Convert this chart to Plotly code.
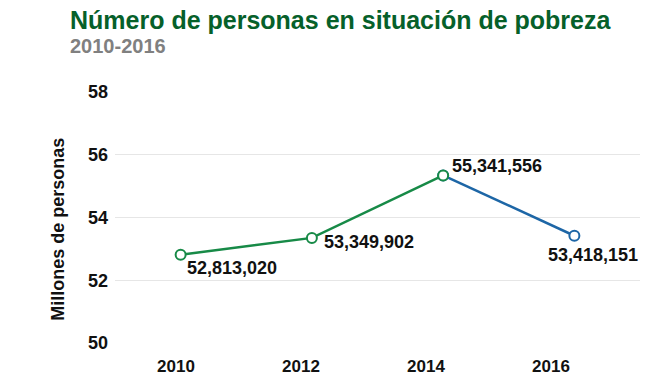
import plotly.graph_objects as go

# ---- data ----
years = [2010, 2012, 2014, 2016]
personas = [52813020, 53349902, 55341556, 53418151]
y_ticks = [50, 52, 54, 56, 58]
x_ticks = [2010, 2012, 2014, 2016]
title_text = "Número de personas en situación de pobreza"
subtitle_text = "2010-2016"
y_title = "Millones de personas"

# ---- style ----
FONT = "Arial, 'Liberation Sans', sans-serif"
GREEN = "#178a47"
BLUE = "#1d66a6"
TITLE_GREEN = "#06602a"
label_shift = [(4, -13), (10, -4), (7, 9), (-28, -19)]

millones = [v / 1e6 for v in personas]

fig = go.Figure()
# blue segment 2014-2016
fig.add_trace(go.Scatter(
    x=years[2:], y=millones[2:], mode="lines+markers",
    line=dict(color=BLUE, width=2.5),
    marker=dict(size=10, color="white", line=dict(color=BLUE, width=2)),
    hoverinfo="skip", showlegend=False))
# green segment 2010-2014
fig.add_trace(go.Scatter(
    x=years[:3], y=millones[:3], mode="lines+markers",
    line=dict(color=GREEN, width=2.5),
    marker=dict(size=10, color="white", line=dict(color=GREEN, width=2)),
    hoverinfo="skip", showlegend=False))
# empty trace to hold the label axis
fig.add_trace(go.Scatter(x=[], y=[], xaxis="x2", showlegend=False))

for yr, m, v, (dx, dy) in zip(years, millones, personas, label_shift):
    fig.add_annotation(x=yr, y=m, xref="x", yref="y", text=f"<b>{v:,}</b>",
                       showarrow=False, xanchor="left", yanchor="middle",
                       xshift=dx, yshift=dy,
                       font=dict(family=FONT, size=18, color="#111111"))

fig.add_annotation(x=-0.0895, y=1.287, xref="paper", yref="paper",
                   text=f"<b>{title_text}</b>", showarrow=False,
                   xanchor="left", yanchor="middle",
                   font=dict(family=FONT, size=25, color=TITLE_GREEN))
fig.add_annotation(x=-0.0895, y=1.183, xref="paper", yref="paper",
                   text=f"<b>{subtitle_text}</b>", showarrow=False,
                   xanchor="left", yanchor="middle",
                   font=dict(family=FONT, size=20, color="#808080"))
fig.add_annotation(x=-0.1086, y=0.455, xref="paper", yref="paper",
                   text=f"<b>{y_title}</b>", showarrow=False, textangle=-90,
                   xanchor="center", yanchor="middle",
                   font=dict(family=FONT, size=18, color="#111111"))

fig.update_layout(
    width=650, height=392,
    margin=dict(l=115, r=10, t=92, b=49),
    paper_bgcolor="white", plot_bgcolor="white",
    font=dict(family=FONT, color="#111111"),
    xaxis=dict(range=[2009, 2017], showticklabels=False, showgrid=False,
               zeroline=False, showline=False, fixedrange=True),
    xaxis2=dict(range=[2009.024, 2017.424], overlaying="x", side="bottom",
                anchor="y", tickmode="array", tickvals=x_ticks,
                ticktext=[f"<b>{t}</b>" for t in x_ticks],
                showgrid=False, zeroline=False, showline=False,
                ticklabelstandoff=11,
                tickfont=dict(family=FONT, size=17, color="#111111")),
    yaxis=dict(range=[50, 58], tickmode="array", tickvals=y_ticks,
               ticktext=[f"<b>{t}</b>" for t in y_ticks],
               showgrid=True, gridcolor="#e6e6e6", gridwidth=1,
               zeroline=False, showline=False, ticklabelstandoff=6,
               tickfont=dict(family=FONT, size=18, color="#111111")),
)

fig.write_html("out.html", config={"displayModeBar": False},
               post_script="document.body.style.margin='0';document.body.style.overflow='hidden';")
